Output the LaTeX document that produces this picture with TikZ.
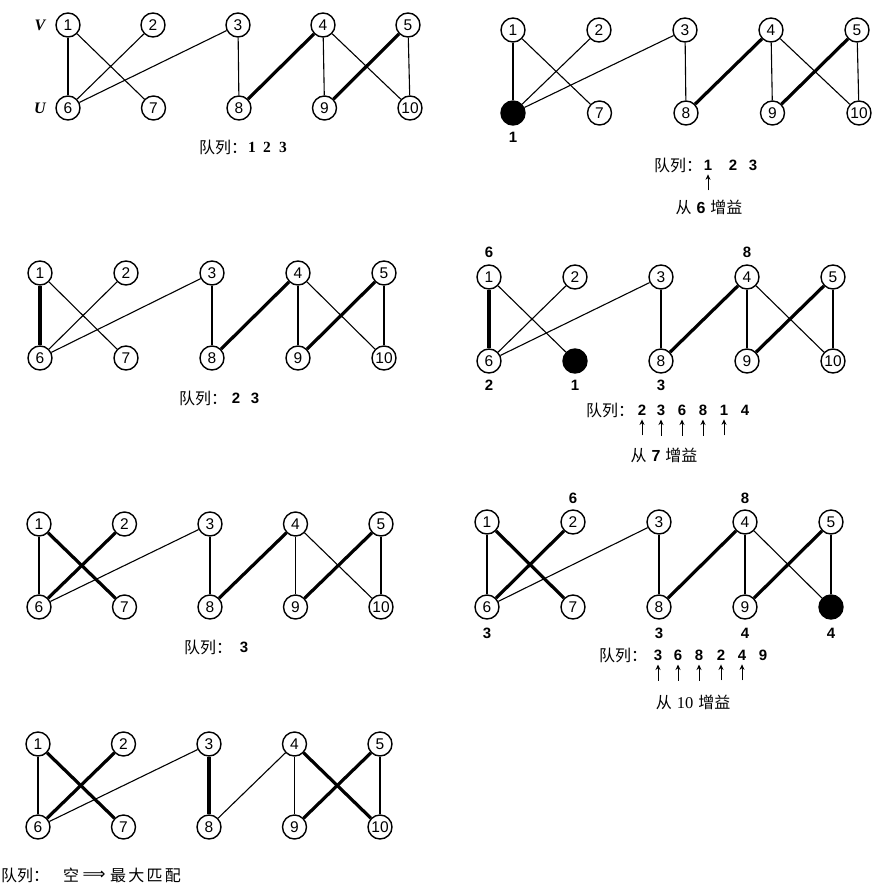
\documentclass[tikz,border=0pt]{standalone}
\usepackage{fontspec}
\setmainfont{Liberation Serif}
\setsansfont{Liberation Sans}
\newfontfamily\cjk{Noto Sans CJK SC}
\newfontfamily\dejavu{DejaVu Sans}
\usetikzlibrary{arrows.meta}
\tikzset{
  vtx/.style={circle, draw, line width=1.4pt, minimum size=24pt, inner sep=0pt, font=\sffamily\fontsize{15.5}{15.5}\selectfont},
  blk/.style={vtx, fill=black},
  e/.style={line width=1.1pt},
  m/.style={line width=3.2pt},
  lbl/.style={font=\sffamily\bfseries\fontsize{15}{15}\selectfont, inner sep=0pt},
  qt/.style={font=\cjk\fontsize{16}{16}\selectfont, inner sep=0pt},
  qd/.style={font=\sffamily\bfseries\fontsize{15}{15}\selectfont, inner sep=0pt},
  qs/.style={font=\rmfamily\bfseries\fontsize{15.5}{15.5}\selectfont, inner sep=0pt},
  up/.style={-{Stealth[length=5.5pt,width=5pt]}, line width=1pt},
  side/.style={font=\rmfamily\bfseries\itshape\fontsize{16}{16}\selectfont, inner sep=0pt},
}
\newcommand\toprow[4]{\foreach \k in {0,...,4}{\pgfmathtruncatemacro\n{\k+1}\node[vtx] (#1\n) at ({#2+\k*#4},#3) {\n};}}
\newcommand\botrow[5]{\foreach \k in {0,...,4}{\pgfmathtruncatemacro\n{\k+6}\ifnum\n=#5\relax\node[blk] (#1\n) at ({#2+\k*#4},#3) {};\else\node[vtx] (#1\n) at ({#2+\k*#4},#3) {\n};\fi}}
\newcommand\edges[2]{\foreach \a/\b/\s in {#2}{\draw[\s] (#1\a) -- (#1\b);}}
\begin{document}
\begin{tikzpicture}[x=1pt,y=-1pt]
\useasboundingbox (0,0) rectangle (872,883);
% ---------- panel a (top left)
\node[side] (vV) at (40,25) {V};
\node[side] (vU) at (40,108) {U};
\toprow{a}{68}{25}{85}
\botrow{a}{68}{108}{85.5}{0}
\edges{a}{1/6/e,1/7/e,2/6/e,3/6/e,3/8/e,4/8/m,4/9/e,4/10/e,5/9/m,5/10/e}
\node[qt,anchor=west] (aq) at (199,147) {队列：};
\node[qs] (aq1) at (252,147) {1};
\node[qs] (aq2) at (267,147) {2};
\node[qs] (aq3) at (283,147) {3};
% ---------- panel b (top right)
\toprow{b}{513}{30}{86}
\botrow{b}{513}{113}{86.5}{6}
\edges{b}{1/6/e,1/7/e,2/6/e,3/6/e,3/8/e,4/8/m,4/9/e,4/10/e,5/9/m,5/10/e}
\node[lbl] (bl6) at ([yshift=-24pt]b6.center) {1};
\node[qt,anchor=west] (bq) at (654,165) {队列：};
\node[qd] (bq1) at (708,165) {1};
\node[qd] (bq2) at (733,165) {2};
\node[qd] (bq3) at (753,165) {3};
\draw[up] ([yshift=-20pt]bq1.south) -- ([yshift=-4pt]bq1.south);
\node[qt] (bg) at (709,207) {从\hspace{5pt}{\sffamily\bfseries 6}\hspace{5pt}增益};
% ---------- panel c (middle left)
\toprow{c}{40}{273}{86}
\botrow{c}{40}{358}{86}{0}
\edges{c}{1/6/m,1/7/e,2/6/e,3/6/e,3/8/e,4/8/m,4/9/e,4/10/e,5/9/m,5/10/e}
\node[qt,anchor=west] (cq) at (179,398) {队列：};
\node[qd] (cq1) at (236,398) {2};
\node[qd] (cq2) at (255,398) {3};
% ---------- panel d (middle right)
\toprow{d}{489}{277}{86}
\botrow{d}{489}{361}{86}{7}
\edges{d}{1/6/m,1/7/e,2/6/e,3/6/e,3/8/e,4/8/m,4/9/e,4/10/e,5/9/m,5/10/e}
\node[lbl] (dl1) at ([yshift=25pt]d1.center) {6};
\node[lbl] (dl4) at ([yshift=25pt]d4.center) {8};
\node[lbl] (dl6) at ([yshift=-24pt]d6.center) {2};
\node[lbl] (dl7) at ([yshift=-24pt]d7.center) {1};
\node[lbl] (dl8) at ([yshift=-24pt]d8.center) {3};
\node[qt,anchor=west] (dq) at (586,410) {队列：};
\foreach \x/\t [count=\j] in {642/2,661/3,682/6,703/8,724/1,745/4}
  \node[qd] (dq\j) at (\x,410) {\t};
\foreach \j in {1,...,5}
  \draw[up] ([yshift=-20pt]dq\j.south) -- ([yshift=-4pt]dq\j.south);
\node[qt] (dg) at (664,455) {从\hspace{5pt}{\sffamily\bfseries 7}\hspace{5pt}增益};
% ---------- panel e (third row left)
\toprow{e}{39}{524}{85.5}
\botrow{e}{39}{607}{85.5}{0}
\edges{e}{1/6/e,1/7/m,2/6/m,3/6/e,3/8/e,4/8/m,4/9/e,4/10/e,5/9/m,5/10/e}
\node[qt,anchor=west] (eq) at (184,647) {队列：};
\node[qd] (eq1) at (244,647) {3};
% ---------- panel f (third row right)
\toprow{f}{487}{522}{86}
\botrow{f}{487}{607}{86}{10}
\edges{f}{1/6/e,1/7/m,2/6/m,3/6/e,3/8/e,4/8/m,4/9/e,4/10/e,5/9/m,5/10/e}
\node[lbl] (fl2) at ([yshift=24pt]f2.center) {6};
\node[lbl] (fl4) at ([yshift=24pt]f4.center) {8};
\node[lbl] (fl6) at ([yshift=-26pt]f6.center) {3};
\node[lbl] (fl8) at ([yshift=-26pt]f8.center) {3};
\node[lbl] (fl9) at ([yshift=-26pt]f9.center) {4};
\node[lbl] (fl10) at ([yshift=-26pt]f10.center) {4};
\node[qt,anchor=west] (fq) at (599,655) {队列：};
\foreach \x/\t [count=\j] in {658/3,678/6,699/8,721/2,742/4,763/9}
  \node[qd] (fq\j) at (\x,655) {\t};
\foreach \j in {1,...,5}
  \draw[up] ([yshift=-20pt]fq\j.south) -- ([yshift=-4pt]fq\j.south);
\node[qt] (fg) at (693,702) {从\hspace{5pt}{\rmfamily\fontsize{16.5}{16.5}\selectfont 10}\hspace{5pt}增益};
% ---------- panel g (bottom)
\toprow{g}{38}{744}{85.5}
\botrow{g}{38}{827}{85.5}{0}
\edges{g}{1/6/e,1/7/m,2/6/m,3/6/e,3/8/m,4/8/e,4/9/e,4/10/m,5/9/m,5/10/e}
\node[qt,anchor=west] (gq) at (1,875) {队列：};
\node[qt] (gq1) at (71,875) {空};
\node[font=\dejavu\fontsize{16}{16}\selectfont, inner sep=0pt] (gq2) at (94,875) {⟹};
\node[qt,anchor=west] (gq3) at (110,875) {\addfontfeature{LetterSpace=14}最大匹配};
\end{tikzpicture}
\end{document}
